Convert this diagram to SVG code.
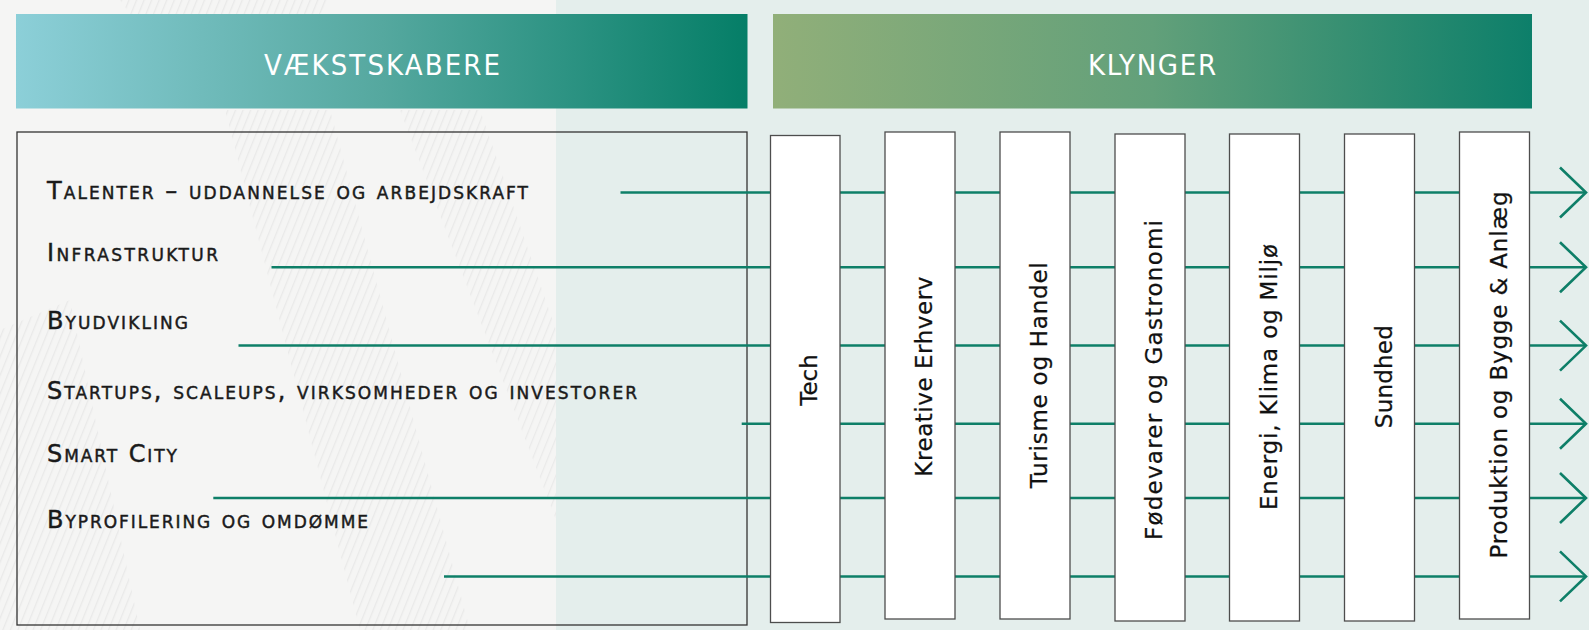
<svg xmlns="http://www.w3.org/2000/svg" width="1589" height="630" viewBox="0 0 1589 630">
  <style>
    .hdr { font-family: "DejaVu Sans Condensed", "DejaVu Sans", "Liberation Sans", sans-serif; font-size: 29px; fill: #ffffff; text-anchor: middle; }
    .lbl { font-family: "DejaVu Sans", "Liberation Sans", sans-serif; font-size: 24px; font-variant: small-caps; fill: #1a1a1a; stroke: #1a1a1a; stroke-width: 0.45; }
    .box { fill: #ffffff; stroke: #4d4d4d; stroke-width: 1.3; }
    .ctext { font-family: "DejaVu Sans", "Liberation Sans", sans-serif; font-size: 23px; fill: #111111; stroke: #111111; stroke-width: 0.25; text-anchor: middle; }
    .conn { stroke: #0e7f68; stroke-width: 2.5; fill: none; marker-end: url(#chev); }
  </style>
  <defs>
    <linearGradient id="g1" x1="0" y1="0" x2="1" y2="0">
      <stop offset="0" stop-color="#8ccfd8"/>
      <stop offset="0.5" stop-color="#55a89f"/>
      <stop offset="1" stop-color="#057e67"/>
    </linearGradient>
    <linearGradient id="g2" x1="0" y1="0" x2="1" y2="0">
      <stop offset="0" stop-color="#91af79"/>
      <stop offset="0.5" stop-color="#62a07a"/>
      <stop offset="1" stop-color="#0d7f6a"/>
    </linearGradient>
    <pattern id="stripes" width="7" height="7" patternUnits="userSpaceOnUse" patternTransform="rotate(22)">
      <rect width="7" height="7" fill="none"/>
      <line x1="0" y1="0" x2="0" y2="7" stroke="#dcdcdc" stroke-width="2.5"/>
    </pattern>
    <marker id="chev" markerUnits="userSpaceOnUse" markerWidth="32" markerHeight="56" viewBox="0 0 32 56" refX="29" refY="28" orient="auto">
      <path d="M3,3 L29,28 L3,53" fill="none" stroke="#0e7f68" stroke-width="2.6"/>
    </marker>
  </defs>

  <!-- background -->
  <rect x="0" y="0" width="1589" height="630" fill="#e4eeec"/>
  <rect x="0" y="0" width="556" height="630" fill="#f5f5f4"/>
  <g opacity="0.45">
    <polygon points="225,110 330,110 470,630 360,630" fill="url(#stripes)"/>
    <polygon points="400,110 480,110 556,330 556,520" fill="url(#stripes)"/>
    <polygon points="0,330 70,300 140,630 0,630" fill="url(#stripes)"/>
    <polygon points="120,0 330,0 320,14 130,14" fill="url(#stripes)"/>
  </g>

  <!-- headers -->
  <g id="header-vaekstskabere">
    <rect x="16" y="14" width="731.5" height="94.5" fill="url(#g1)"/>
    <text class="hdr" x="382" y="75" textLength="236">VÆKSTSKABERE</text>
  </g>
  <g id="header-klynger">
    <rect x="773" y="14" width="759" height="94.5" fill="url(#g2)"/>
    <text class="hdr" x="1152" y="75" textLength="128">KLYNGER</text>
  </g>

  <!-- left box with growth drivers -->
  <g id="vaekstskabere">
    <rect x="17" y="132" width="730" height="493" fill="none" stroke="#333333" stroke-width="1.3"/>
    <text class="lbl" x="47" y="198.5" textLength="481">Talenter – uddannelse og arbejdskraft</text>
    <text class="lbl" x="47" y="260.7" textLength="171">Infrastruktur</text>
    <text class="lbl" x="47" y="328.7" textLength="141">Byudvikling</text>
    <text class="lbl" x="47" y="399.3" textLength="590">Startups, scaleups, virksomheder og investorer</text>
    <text class="lbl" x="47" y="461.7" textLength="130">Smart City</text>
    <text class="lbl" x="47" y="528.3" textLength="321">Byprofilering og omdømme</text>
  </g>

  <!-- connectors -->
  <g id="connectors">
    <line class="conn" x1="620.5" y1="192.5" x2="1586" y2="192.5"/>
    <line class="conn" x1="271.5" y1="267.2" x2="1586" y2="267.2"/>
    <line class="conn" x1="238.5" y1="345.6" x2="1586" y2="345.6"/>
    <line class="conn" x1="741.7" y1="423.8" x2="1586" y2="423.8"/>
    <line class="conn" x1="213.3" y1="498" x2="1586" y2="498"/>
    <line class="conn" x1="444" y1="576.4" x2="1586" y2="576.4"/>
  </g>

  <!-- clusters -->
  <g id="tech">
    <rect class="box" x="770.5" y="135.5" width="69.5" height="487"/>
    <text class="ctext" transform="translate(805.3,380) rotate(-90)" x="0" y="12">Tech</text>
  </g>
  <g id="kreative-erhverv">
    <rect class="box" x="885" y="132" width="70" height="487"/>
    <text class="ctext" transform="translate(920,376.7) rotate(-90)" x="0" y="12" textLength="200">Kreative Erhverv</text>
  </g>
  <g id="turisme-og-handel">
    <rect class="box" x="1000" y="132" width="70" height="487"/>
    <text class="ctext" transform="translate(1035,375.3) rotate(-90)" x="0" y="12" textLength="226">Turisme og Handel</text>
  </g>
  <g id="foedevarer-og-gastronomi">
    <rect class="box" x="1115" y="134" width="70" height="487"/>
    <text class="ctext" transform="translate(1150,380) rotate(-90)" x="0" y="12" textLength="320">Fødevarer og Gastronomi</text>
  </g>
  <g id="energi-klima-og-miljoe">
    <rect class="box" x="1229.5" y="134" width="70" height="487"/>
    <text class="ctext" transform="translate(1264.5,377) rotate(-90)" x="0" y="12" textLength="266">Energi, Klima og Miljø</text>
  </g>
  <g id="sundhed">
    <rect class="box" x="1344.5" y="134" width="70" height="487"/>
    <text class="ctext" transform="translate(1379.5,376.7) rotate(-90)" x="0" y="12" textLength="103">Sundhed</text>
  </g>
  <g id="produktion-og-bygge-og-anlaeg">
    <rect class="box" x="1459.5" y="132" width="70" height="487"/>
    <text class="ctext" transform="translate(1494.5,375) rotate(-90)" x="0" y="12" textLength="367">Produktion og Bygge &amp; Anlæg</text>
  </g>
</svg>
